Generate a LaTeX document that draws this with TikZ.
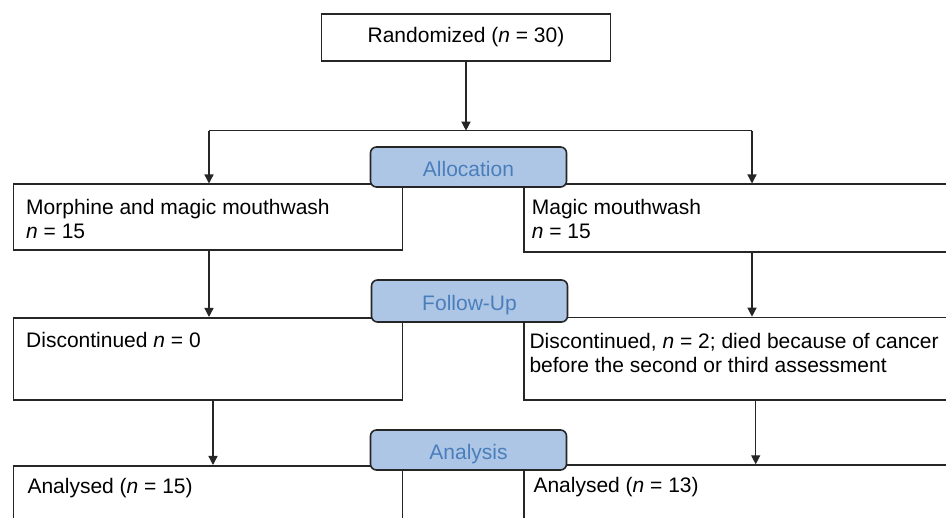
\documentclass[tikz,border=0pt]{standalone}
\usepackage{fontspec}
\setmainfont{Liberation Sans}
\usepackage{tikz}
\usetikzlibrary{arrows.meta}
\definecolor{phasefill}{RGB}{174,198,230}
\definecolor{phasetext}{RGB}{74,126,187}

\begin{document}
\begin{tikzpicture}[x=1pt,y=-1pt,
		box/.style={draw=black!85,line width=1.6pt,rectangle,anchor=north west,inner sep=0pt},
		txt/.style={anchor=north west,inner sep=0pt,align=left,font=\fontsize{21pt}{24.3pt}\selectfont},
		phase/.style={draw=black!85,line width=1.6pt,rounded corners=6pt,fill=phasefill,text=phasetext,
			minimum width=196pt,minimum height=40pt,inner sep=0pt,text height=19pt,text depth=0pt,
			font=\fontsize{21pt}{24.3pt}\selectfont},
		arr/.style={-{Triangle[length=9pt,width=9pt]},line width=1.3pt,black!85}]
				\useasboundingbox (0,0) rectangle (946,518);
				\clip (0,0) rectangle (946,518);
				% Kaesten
				\node[box,anchor=center,minimum width=289pt,minimum height=47pt,
					font=\fontsize{21pt}{24.3pt}\selectfont] (rand) at (466,37.5) {Randomized (\textit{n} = 30)};
				\node[box,minimum width=389pt,minimum height=66pt] (m1) at (12.5,183.5) {};
				\node[box,minimum width=477pt,minimum height=67.5pt] (w1) at (523.3,183.5) {};
				\node[box,minimum width=389pt,minimum height=82pt] (m2) at (12.5,317) {};
				\node[box,minimum width=477pt,minimum height=82.3pt] (w2) at (523.3,316.7) {};
				\node[box,minimum width=389pt,minimum height=95pt] (m3) at (12.5,465) {};
				\node[box,minimum width=477pt,minimum height=96pt] (w3) at (523.3,464.3) {};
				% Texte
				\node[txt] (m1t) at (26,199) {Morphine and magic mouthwash\\\textit{n} = 15};
				\node[txt] (w1t) at (531.7,199) {Magic mouthwash\\\textit{n} = 15};
				\node[txt] (m2t) at (26,331.7) {Discontinued \textit{n} = 0};
				\node[txt] (w2t) at (529.3,333) {Discontinued, \textit{n} = 2; died because of cancer\\before the second or third assessment};
				\node[txt] (m3t) at (27.3,478) {Analysed (\textit{n} = 15)};
				\node[txt] (w3t) at (533.3,476.7) {Analysed (\textit{n} = 13)};
				% Pfeile
				\coordinate (splitL) at (209,130.7);
				\coordinate (splitR) at (752,130.7);
				\coordinate (lowL) at (213,430);
				\coordinate (lowR) at (755.7,430);
				\draw[line width=1.3pt,black!85] (splitL) -- (splitR);
				\draw[arr] (rand) -- (rand |- splitL);
				\draw[arr] (splitL) -- (splitL |- m1.north);
				\draw[arr] (splitR) -- (splitR |- w1.north);
				\draw[arr] (splitL |- m1.south) -- (splitL |- m2.north);
				\draw[arr] (splitR |- w1.south) -- (splitR |- w2.north);
				\draw[arr] (lowL |- m2.south) -- (lowL |- m3.north);
				\draw[arr] (lowR |- w2.south) -- (lowR |- w3.north);
				% Phasen
				\node[phase] (alloc) at (468.5,167) {Allocation};
				\node[phase,minimum height=42pt] (follow) at (469.5,301) {Follow-Up};
				\node[phase] (analysis) at (468.5,450) {Analysis};
			\end{tikzpicture}
\end{document}
